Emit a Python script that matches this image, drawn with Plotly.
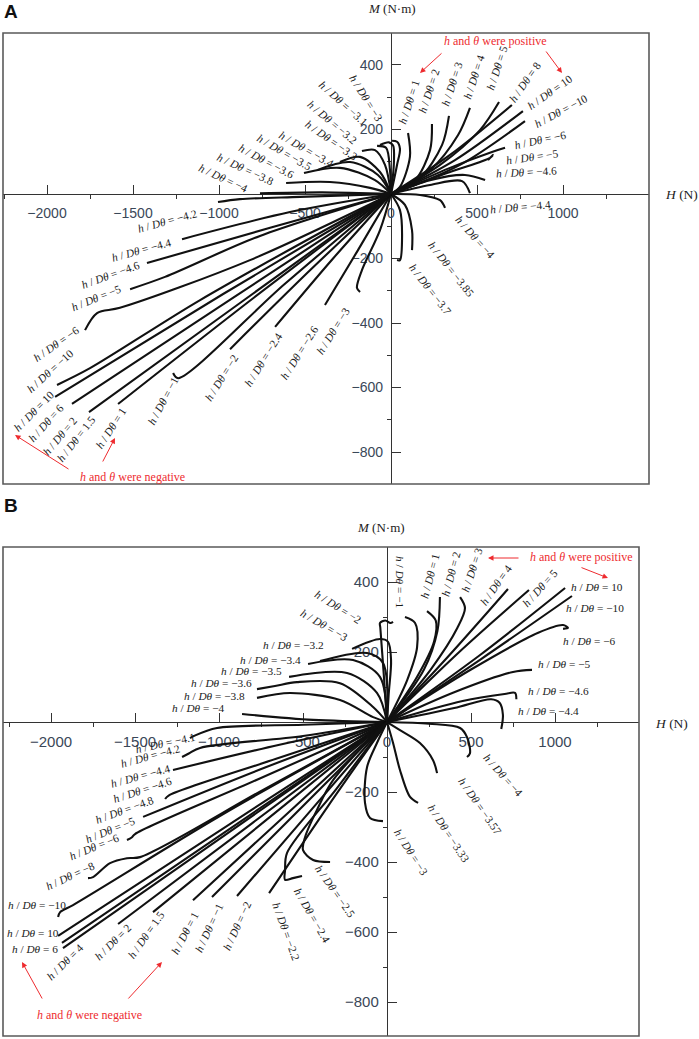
import plotly.graph_objects as go

W, HT = 699, 1039

# ---------- panel A : H (N) / M (N·m) paths ----------
A_UR_NAMES = ["1", "2", "3", "4", "5", "8", "10", "-10", "-6", "-5", "-4.6", "-4.4"]
A_UR_H = [[0, 52, 110, 99], [0, 140, 227, 238], [0, 169, 297, 337], [0, 227, 390, 459],
          [0, 285, 517, 628], [0, 343, 703], [0, 372, 767], [0, 401, 779],
          [0, 343, 587, 663], [0, 343, 576, 593, 564], [0, 227, 430, 547], [0, 227, 413, 459]]
A_UR_M = [[0, 22, 115, 189], [0, 43, 136, 217], [0, 50, 152, 242], [0, 74, 183, 267],
          [0, 90, 198, 285], [0, 121, 276], [0, 105, 257], [0, 90, 226],
          [0, 81, 130, 143], [0, 68, 112, 121, 105], [0, 43, 59, 43], [0, 28, 40, 3]]

A_LR_NAMES = ["-4", "-3.85", "-3.7", "-3"]
A_LR_H = [[0, 169, 285, 314], [0, 81, 122, 122], [0, 52, 64, 52, 35], [0, -64, -169, -198, -180]]
A_LR_M = [[0, -3, -19, -43], [0, -34, -112, -174], [0, -50, -143, -205, -205], [0, -112, -236, -291, -304]]

A_LL_NAMES = ["-2.6", "-2.4", "-2", "-1", "1", "2", "6", "10", "-10", "-6", "-5", "-4.6", "-4.4", "-4.2"]
A_LL_H = [[0, -192, -384], [0, -337, -674], [0, -468, -936], [0, -620, -1238, -1267],
          [0, -794, -1587], [0, -878, -1756], [0, -928, -1855], [0, -976, -1953],
          [0, -1110, -1750, -1942], [0, -820, -1576, -1709, -1779], [0, -762, -1314, -1517],
          [0, -703, -1419], [0, -587, -1215], [0, -529, -878, -1006]]
A_LL_M = [[0, -174, -344], [0, -200, -412], [0, -235, -481], [0, -280, -571, -555],
          [0, -320, -651], [0, -338, -676], [0, -325, -651], [0, -310, -629],
          [0, -329, -540, -592], [0, -205, -353, -369, -422], [0, -130, -257, -295],
          [0, -105, -214], [0, -56, -140], [0, -9, -16, -25]]

A_UL_NAMES = ["-4", "-3.8", "-3.6", "-3.5", "-3.4", "-3.3", "-3.2", "-3.1", "-3"]
A_UL_H = [[0, -400, -762], [0, -122, -355, -610], [0, -93, -297, -506], [0, -76, -238, -430],
          [0, -64, -180, -297], [0, -35, -93, -169], [0, -6, -29, -81], [0, 17, 12, -12, -64],
          [0, 35, 52, 35, 6]]
A_UL_M = [[0, 5, 2], [0, 19, 37, 34], [0, 43, 81, 65], [0, 59, 99, 74],
          [0, 68, 115, 99], [0, 90, 136, 133], [0, 74, 143, 149], [0, 100, 150, 160, 152],
          [0, 90, 140, 162, 165]]

# ---------- panel B ----------
B_UR_NAMES = ["-1", "1", "2", "3", "4", "5", "10", "-10", "-6", "-5", "-4.6", "-4.4"]
B_UR_H = [[0, 120, 179, 167, 107], [0, 180, 280, 290, 238], [0, 220, 300, 315],
          [0, 260, 420, 464, 435], [0, 360, 720], [0, 430, 845], [0, 550, 1060], [0, 560, 1101],
          [0, 500, 900, 1048, 1077, 1048], [0, 400, 750, 863], [0, 450, 700, 762, 770],
          [0, 400, 620, 670, 690, 680]]
B_UR_M = [[0, 120, 214, 283, 300], [0, 130, 230, 290, 317], [0, 150, 260, 357],
          [0, 150, 270, 326, 357], [0, 185, 380], [0, 200, 377], [0, 190, 383], [0, 180, 360],
          [0, 150, 255, 277, 269, 266], [0, 85, 143, 149], [0, 60, 80, 83, 65],
          [0, 40, 65, 55, 20, -20]]

B_LR_NAMES = ["-4", "-3.57", "-3.33", "-3"]
B_LR_H = [[0, 250, 435, 476, 494, 476], [0, 77, 196, 274, 298], [0, 36, 77, 137, 185],
          [0, -60, -119, -131, -101, -24]]
B_LR_M = [[0, -5, -17, -43, -89, -100], [0, -23, -60, -109, -146], [0, -60, -137, -214, -231],
          [0, -60, -129, -231, -274, -283]]

B_UL_NAMES = ["-2", "-3", "-3.2", "-3.4", "-3.5", "-3.6", "-3.8", "-4"]
B_UL_H = [[0, -20, -40, -42, -10, 20, 36], [0, 10, 24, 6, -42, -208], [0, -24, -119, -399],
          [0, -42, -202, -470], [0, -60, -238, -583], [0, -83, -280, -536, -667, -774],
          [0, -83, -280, -577, -774], [0, -440, -863]]
B_UL_M = [[0, 140, 270, 283, 290, 283, 286], [0, 80, 177, 229, 237, 209], [0, 169, 197, 174],
          [0, 129, 177, 166], [0, 83, 140, 129], [0, 43, 111, 114, 103, 94],
          [0, 14, 63, 83, 69], [0, 6, 23]]

B_LL_NAMES = ["-4.1", "-4.2", "-4.4", "-4.6", "-4.8", "-5", "-8", "-10", "10", "6", "4",
              "2", "1.5", "1", "-1", "-2", "-2.2", "-2.4", "-2.5"]
B_LL_H = [[0, -500, -1012, -1150, -1173], [0, -500, -1113, -1180, -1220], [0, -640, -1274],
          [0, -660, -1300, -1321], [0, -726, -1452], [0, -774, -1500, -1520, -1548],
          [0, -735, -1470, -1548, -1649, -1750, -1780], [0, -1000, -1869, -1946, -1958],
          [0, -979, -1958], [0, -967, -1935], [0, -965, -1929], [0, -800, -1601],
          [0, -696, -1393], [0, -577, -1155], [0, -521, -1042], [0, -446, -893],
          [0, -351, -702], [0, -300, -595, -607, -607, -560, -506],
          [0, -321, -417, -488, -500, -440, -339]]
B_LL_M = [[0, -8, -17, -40, -46], [0, -40, -74, -90, -100], [0, -65, -137],
          [0, -105, -210, -220], [0, -130, -271], [0, -165, -320, -330, -337],
          [0, -193, -386, -389, -403, -443, -446], [0, -270, -523, -543, -557],
          [0, -305, -611], [0, -315, -631], [0, -323, -646], [0, -288, -577],
          [0, -271, -543], [0, -254, -509], [0, -250, -500], [0, -248, -497],
          [0, -240, -489], [0, -190, -374, -423, -451, -446, -440],
          [0, -166, -251, -329, -366, -394, -400]]

X_TICKS = [-2000, -1500, -1000, -500, 0, 500, 1000]
X_MINOR = [-2250, -1750, -1250, -750, -250, 250, 750, 1250]
Y_TICKS = [-800, -600, -400, -200, 200, 400]
Y_MINOR = [-700, -500, -300, -100, 100, 300]

# curve labels: (value, x px, y px, angle)
A_LABELS = [
    ("-4", 223, 178, 25), ("-3.8", 245, 169, 25), ("-3.6", 266, 161, 28), ("-3.5", 284, 152, 30),
    ("-3.4", 306, 149, 30), ("-3.3", 331, 140, 35), ("-3.2", 332, 122, 40), ("-3.1", 343, 103, 42),
    ("-3", 366, 98, 58),
    ("1", 409, 102, -72), ("2", 429, 91, -72), ("3", 452, 84, -72), ("4", 474, 77, -72),
    ("5", 497, 68, -72), ("8", 525, 82, -55), ("10", 550, 92, -35), ("-10", 561, 111, -28),
    ("-6", 540, 140, -12), ("-5", 532, 157, -8), ("-4.6", 526, 172, -3), ("-4.4", 520, 207, -5),
    ("-4", 475, 237, 48), ("-3.85", 451, 269, 52), ("-3.7", 430, 289, 52),
    ("-4.2", 167, 221, -15), ("-4.4", 141, 250, -15), ("-4.6", 110, 275, -20), ("-5", 96, 298, -22),
    ("-6", 56, 344, -35), ("-10", 50, 371, -42), ("10", 34, 411, -45), ("6", 46, 423, -48),
    ("2", 60, 436, -50), ("1.5", 76, 439, -52), ("1", 111, 428, -57), ("-1", 163, 401, -62),
    ("-2", 222, 377, -58), ("-2.4", 263, 360, -58), ("-2.6", 299, 353, -58), ("-3", 333, 331, -58),
]
B_LABELS = [
    ("-3.2", 293, 645, 0), ("-3.4", 270, 660, 0), ("-3.5", 251, 671, 0), ("-3.6", 221, 683, 0),
    ("-3.8", 214, 696, 0), ("-4", 198, 708, 0), ("-3", 324, 625, 30), ("-2", 338, 607, 32),
    ("-1", 400, 582, 90), ("1", 430, 576, -75), ("2", 451, 574, -75), ("3", 472, 570, -72),
    ("4", 496, 585, -55), ("5", 540, 588, -48), ("10", 597, 587, 0), ("-10", 595, 608, 0),
    ("-6", 589, 641, 0), ("-5", 564, 664, 0), ("-4.6", 558, 691, 0), ("-4.4", 548, 711, 0),
    ("-4", 503, 775, 48), ("-3.57", 480, 806, 55), ("-3.33", 449, 834, 57), ("-3", 411, 852, 57),
    ("-4.1", 165, 743, -12), ("-4.2", 150, 756, -15), ("-4.4", 140, 776, -15), ("-4.6", 142, 790, -18),
    ("-4.8", 124, 810, -20), ("-5", 110, 830, -22), ("-6", 94, 847, -22), ("-8", 70, 876, -25),
    ("-10", 37, 905, 0), ("10", 33, 933, 0), ("6", 35, 949, 0), ("4", 65, 962, -45),
    ("2", 113, 942, -45), ("1.5", 146, 935, -55), ("1", 185, 933, -62), ("-1", 209, 928, -65),
    ("-2", 237, 926, -65), ("-2.2", 286, 931, 70), ("-2.4", 312, 915, 60), ("-2.5", 335, 891, 55),
]

RED = "#ee2b2f"
INK = "#111111"
TICKC = "#3a4758"


def px(x, y):
    return x / W, 1 - y / HT


fig = go.Figure()


def add_group(names, hs, ms, xa, ya):
    for name, h, m in zip(names, hs, ms):
        fig.add_trace(go.Scatter(
            x=h, y=m, mode="lines", name=name, xaxis=xa, yaxis=ya,
            line=dict(color=INK, width=2.1, shape="spline", smoothing=0.9),
            hoverinfo="skip", showlegend=False))


add_group(A_UR_NAMES, A_UR_H, A_UR_M, "x", "y")
add_group(A_LR_NAMES, A_LR_H, A_LR_M, "x", "y")
add_group(A_LL_NAMES, A_LL_H, A_LL_M, "x", "y")
add_group(A_UL_NAMES, A_UL_H, A_UL_M, "x", "y")
add_group(B_UR_NAMES, B_UR_H, B_UR_M, "x2", "y2")
add_group(B_LR_NAMES, B_LR_H, B_LR_M, "x2", "y2")
add_group(B_UL_NAMES, B_UL_H, B_UL_M, "x2", "y2")
add_group(B_LL_NAMES, B_LL_H, B_LL_M, "x2", "y2")


def axes(xdom, ydom, xr, yr, fsize):
    # axes cross at the origin, like the original figure
    xpos = ydom[0] + (0 - yr[0]) / (yr[1] - yr[0]) * (ydom[1] - ydom[0])
    ypos = xdom[0] + (0 - xr[0]) / (xr[1] - xr[0]) * (xdom[1] - xdom[0])
    common = dict(showgrid=False, zeroline=False, showline=True, linecolor="#333",
                  linewidth=1.4, ticks="inside", ticklen=9, tickwidth=1.2, tickcolor="#333",
                  tickfont=dict(family="Liberation Sans", size=fsize, color=TICKC),
                  layer="below traces", anchor="free", fixedrange=True)
    xa = dict(common, domain=xdom, range=xr, position=xpos, tickmode="array", tickvals=X_TICKS,
              minor=dict(tickmode="array", tickvals=X_MINOR, ticks="outside", ticklen=4,
                         tickwidth=1.2, tickcolor="#333"),
              ticklabelstandoff=6)
    ya = dict(common, domain=ydom, range=yr, position=ypos, tickmode="array", tickvals=Y_TICKS,
              minor=dict(tickmode="array", tickvals=Y_MINOR, ticks="outside", ticklen=4,
                         tickwidth=1.2, tickcolor="#333"),
              ticklabelstandoff=5)
    return xa, ya


A_XDOM, A_YDOM = [3 / W, 649 / W], [1 - 484 / HT, 1 - 33 / HT]
B_XDOM, B_YDOM = [3 / W, 639 / W], [1 - 1036 / HT, 1 - 547 / HT]
xa1, ya1 = axes(A_XDOM, A_YDOM, [-2256, 1500], [-899, 499], 14)
xa2, ya2 = axes(B_XDOM, B_YDOM, [-2286, 1500], [-897, 500], 15)

ann = []


def lbl(v):
    return "<i>h</i> / <i>Dθ</i> = " + v.replace("-", "−")


def note(x, y, text, font, angle=0):
    px_, py_ = px(x, y)
    return dict(x=px_, y=py_, xref="paper", yref="paper", text=text, showarrow=False,
                textangle=angle, xanchor="center", yanchor="middle", font=font)


LBL_FONT = dict(family="Liberation Serif", size=11.3, color="#1a1a1a")
for v, x, y, a in A_LABELS + B_LABELS:
    ann.append(note(x, y, lbl(v), LBL_FONT, a))

# red notes and arrows
RED_FONT = dict(family="Liberation Serif", size=12, color=RED)
for txt, x, y in [("positive", 495, 41), ("negative", 132, 477), ("positive", 581, 557),
                  ("negative", 89, 1015)]:
    ann.append(note(x, y, "<i>h</i> and <i>θ</i> were " + txt, RED_FONT))
for hx, hy, tx, ty in [(420, 73, 443, 52), (562, 73, 545, 50), (15, 435, 70, 470),
                       (115, 438, 102, 463), (488, 558, 520, 558), (608, 578, 580, 567),
                       (22, 962, 43, 1000), (162, 962, 127, 1000)]:
    px_, py_ = px(hx, hy)
    ann.append(dict(x=px_, y=py_, xref="paper", yref="paper", text="", showarrow=True,
                    ax=tx - hx, ay=ty - hy, arrowhead=2, arrowsize=1.1, arrowwidth=1,
                    arrowcolor=RED))

# axis titles and panel letters
for txt, x, y, s in [("<i>M</i> (N·m)", 392, 9, 13), ("<i>H</i> (N)", 681, 195, 13.5),
                     ("<i>M</i> (N·m)", 381, 527, 13), ("<i>H</i> (N)", 671, 723, 13.5)]:
    ann.append(note(x, y, txt, dict(family="Liberation Serif", size=s, color="#222")))
for txt, x, y in [("A", 11, 12), ("B", 11, 505)]:
    ann.append(note(x, y, "<b>" + txt + "</b>",
                    dict(family="Liberation Sans", size=19, color="#111")))

FRAME = dict(color="#5a5a5a", width=1.6)
shapes = [
    dict(type="rect", xref="paper", yref="paper", x0=A_XDOM[0], x1=A_XDOM[1],
         y0=A_YDOM[0], y1=A_YDOM[1], line=FRAME),
    dict(type="rect", xref="paper", yref="paper", x0=B_XDOM[0], x1=B_XDOM[1],
         y0=B_YDOM[0], y1=B_YDOM[1], line=FRAME),
]

fig.update_layout(
    width=W, height=HT, margin=dict(l=0, r=0, t=0, b=0),
    paper_bgcolor="white", plot_bgcolor="white",
    xaxis=xa1, yaxis=ya1, xaxis2=xa2, yaxis2=ya2,
    annotations=ann, shapes=shapes, showlegend=False,
)

fig.write_html("out.html", config={"displayModeBar": False},
               post_script="document.body.style.margin='0';")
